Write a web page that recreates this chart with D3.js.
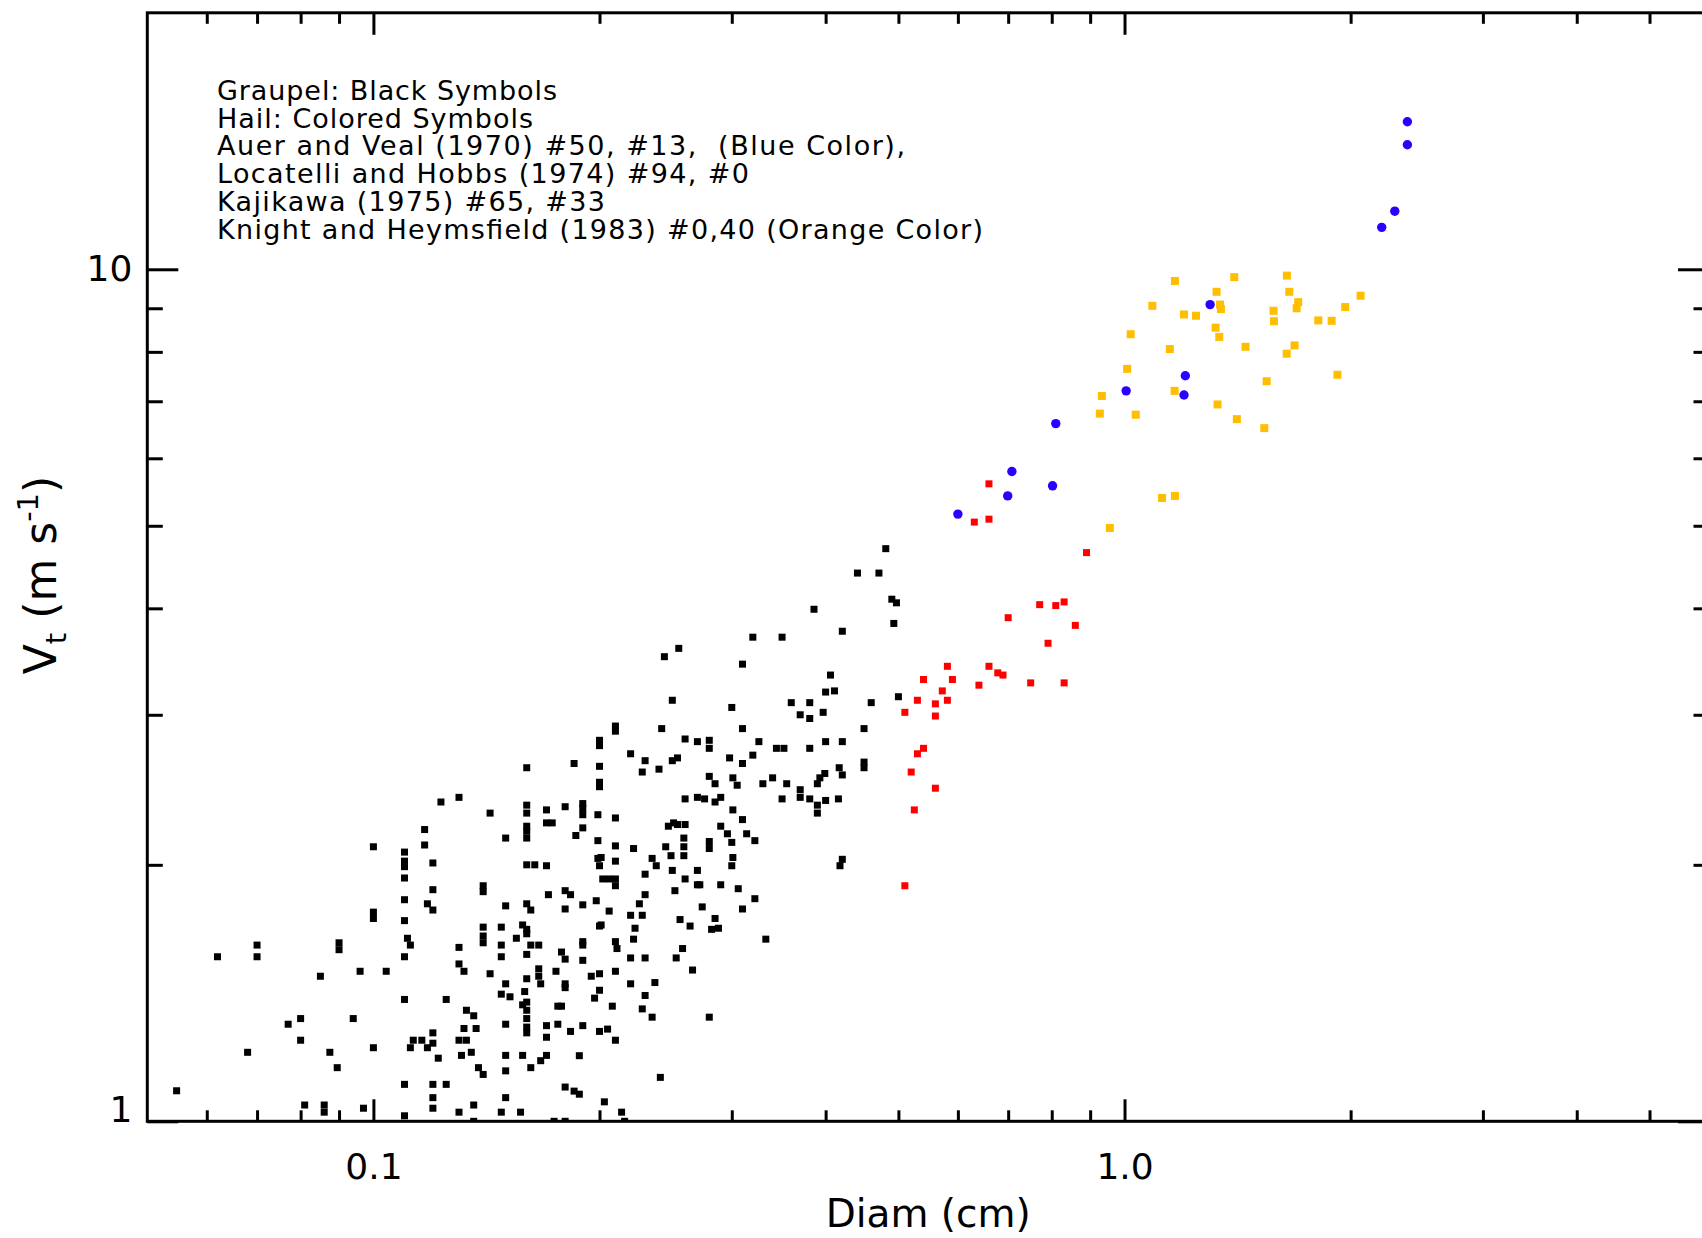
<!DOCTYPE html>
<html>
<head>
<meta charset="utf-8">
<script src="https://cdn.jsdelivr.net/npm/d3@7"></script>
<style>
  body { margin: 0; background: #fff; }
  svg { display: block; }
  text { font-family: "DejaVu Sans", "Liberation Sans", sans-serif; }
</style>
</head>
<body>
<div id="chart"></div>
<script>
// graupel, black squares  [diam cm, Vt m/s]
const graupel = [
  [0.16,2.60],[0.123,2.37],[0.13,2.40],[0.143,2.30],[0.16,2.35],[0.16,2.30],[0.16,2.22],[0.16,2.19],[0.16,2.15],[0.117,2.20],
  [0.481,4.70],[0.441,4.40],[0.471,4.40],[0.490,4.10],[0.497,4.06],[0.386,3.99],[0.493,3.84],[0.421,3.76],[0.320,3.70],[0.350,3.70],
  [0.255,3.59],[0.244,3.51],[0.310,3.44],[0.406,3.34],[0.400,3.19],[0.411,3.20],[0.250,3.12],[0.500,3.15],[0.300,3.06],[0.360,3.10],
  [0.381,3.10],[0.460,3.10],[0.370,3.00],[0.381,2.97],[0.397,3.02],[0.210,2.91],[0.210,2.87],[0.242,2.89],[0.310,2.89],[0.450,2.89],
  [0.200,2.80],[0.200,2.76],[0.260,2.81],[0.270,2.79],[0.280,2.80],[0.280,2.74],[0.326,2.79],[0.400,2.79],[0.421,2.79],[0.344,2.74],
  [0.352,2.74],[0.381,2.74],[0.220,2.70],[0.230,2.65],[0.228,2.57],[0.240,2.59],[0.250,2.65],[0.254,2.67],[0.298,2.67],[0.310,2.63],
  [0.320,2.69],[0.185,2.63],[0.200,2.61],[0.200,2.50],[0.200,2.47],[0.280,2.54],[0.285,2.49],[0.301,2.53],[0.305,2.48],[0.330,2.49],
  [0.340,2.53],[0.355,2.49],[0.370,2.45],[0.370,2.40],[0.381,2.39],[0.390,2.49],[0.393,2.53],[0.399,2.56],[0.417,2.60],[0.421,2.55],
  [0.450,2.64],[0.450,2.60],[0.390,2.35],[0.400,2.38],[0.416,2.39],[0.390,2.30],[0.350,2.39],[0.260,2.39],[0.270,2.40],[0.276,2.39],
  [0.285,2.37],[0.290,2.40],[0.301,2.32],[0.310,2.26],[0.170,2.32],[0.170,2.24],[0.173,2.24],[0.180,2.34],[0.190,2.36],[0.190,2.33],
  [0.190,2.29],[0.199,2.29],[0.210,2.27],[0.247,2.22],[0.251,2.24],[0.254,2.23],[0.260,2.23],[0.290,2.22],[0.190,2.21],
  [0.150,2.15],[0.100,2.10],[0.117,2.11],[0.110,2.07],[0.110,2.02],[0.110,1.99],[0.120,2.01],[0.160,2.00],[0.164,2.00],[0.110,1.93],
  [0.120,1.87],[0.140,1.89],[0.140,1.86],[0.110,1.82],[0.118,1.80],[0.120,1.77],[0.150,1.79],[0.160,1.80],[0.162,1.77],[0.100,1.76],
  [0.100,1.73],[0.110,1.72],[0.140,1.69],[0.140,1.65],[0.140,1.62],[0.148,1.69],[0.158,1.70],[0.160,1.68],[0.160,1.66],[0.111,1.64],
  [0.112,1.61],[0.155,1.64],[0.148,1.61],[0.162,1.61],[0.166,1.61],[0.070,1.61],[0.070,1.56],[0.090,1.62],[0.090,1.59],[0.062,1.56],
  [0.110,1.56],[0.130,1.60],[0.148,1.56],[0.160,1.57],[0.096,1.50],[0.104,1.50],[0.130,1.53],[0.132,1.50],[0.143,1.49],[0.085,1.48],
  [0.160,1.47],[0.150,1.45],[0.148,1.41],[0.152,1.40],[0.159,1.42],[0.110,1.39],[0.125,1.39],[0.158,1.37],[0.160,1.38],[0.160,1.35],
  [0.160,1.32],[0.160,1.29],[0.160,1.27],[0.133,1.35],[0.136,1.33],[0.094,1.32],[0.080,1.32],[0.077,1.30],[0.132,1.285],[0.137,1.285],
  [0.150,1.30],[0.120,1.27],[0.113,1.245],[0.116,1.245],[0.120,1.235],[0.112,1.22],[0.118,1.22],[0.130,1.245],[0.133,1.245],[0.080,1.245],
  [0.100,1.22],[0.068,1.205],[0.0875,1.205],[0.122,1.186],[0.131,1.195],[0.135,1.205],[0.150,1.195],[0.158,1.195],[0.162,1.156],[0.0895,1.156],
  [0.138,1.156],[0.140,1.135],[0.150,1.146],[0.0547,1.086],[0.110,1.105],[0.120,1.105],[0.125,1.105],[0.120,1.066],[0.150,1.066],[0.081,1.045],
  [0.086,1.045],[0.086,1.025],[0.097,1.036],[0.120,1.036],[0.136,1.045],[0.130,1.025],[0.148,1.025],[0.157,1.025],[0.110,1.015],[0.136,1.00],
  [0.186,2.165],[0.199,2.135],[0.210,2.105],[0.222,2.09],[0.259,2.15],[0.245,2.10],[0.259,2.10],[0.259,2.05],[0.249,2.05],[0.280,2.13],
  [0.280,2.09],[0.296,2.175],[0.300,2.125],[0.314,2.175],[0.322,2.135],[0.170,1.995],[0.199,2.035],[0.201,2.04],[0.200,1.995],[0.210,2.02],
  [0.235,2.035],[0.238,1.995],[0.250,1.97],[0.270,1.97],[0.301,2.04],[0.300,1.995],[0.230,1.95],[0.202,1.925],[0.206,1.925],[0.210,1.925],
  [0.210,1.89],[0.260,1.925],[0.270,1.895],[0.272,1.895],[0.290,1.895],[0.306,1.875],[0.252,1.865],[0.230,1.845],[0.171,1.845],[0.180,1.865],
  [0.183,1.845],[0.322,1.825],[0.180,1.775],[0.190,1.795],[0.198,1.815],[0.206,1.765],[0.226,1.80],[0.220,1.745],[0.228,1.745],[0.274,1.785],
  [0.310,1.775],[0.256,1.725],[0.264,1.695],[0.285,1.73],[0.282,1.68],[0.288,1.685],[0.200,1.695],[0.201,1.70],[0.223,1.685],[0.333,1.636],
  [0.222,1.636],[0.190,1.625],[0.190,1.61],[0.210,1.625],[0.211,1.595],[0.258,1.595],[0.178,1.58],[0.180,1.55],[0.190,1.545],[0.220,1.555],
  [0.230,1.555],[0.253,1.555],[0.266,1.505],[0.166,1.51],[0.166,1.48],[0.167,1.45],[0.175,1.50],[0.180,1.45],[0.180,1.435],[0.195,1.48],
  [0.200,1.49],[0.210,1.50],[0.220,1.45],[0.237,1.455],[0.200,1.425],[0.197,1.395],[0.230,1.405],[0.176,1.365],[0.178,1.365],[0.208,1.365],
  [0.228,1.355],[0.235,1.325],[0.280,1.325],[0.170,1.295],[0.176,1.30],[0.190,1.295],[0.183,1.275],[0.200,1.275],[0.205,1.283],[0.170,1.255],
  [0.210,1.245],[0.170,1.195],[0.167,1.178],[0.188,1.194],[0.241,1.126],[0.180,1.097],[0.185,1.085],[0.188,1.076],[0.203,1.054],[0.214,1.025],
  [0.174,1.00],[0.180,1.00],[0.216,1.00],[0.421,2.03],[0.418,1.995]
];

// hail, red squares (Kajikawa)
const kajikawa = [
  [0.660,5.60],[0.631,5.05],[0.660,5.09],[0.890,4.65],[0.771,4.04],[0.810,4.03],[0.831,4.07],[0.700,3.90],[0.860,3.82],[0.791,3.64],
  [0.581,3.42],[0.660,3.42],[0.678,3.36],[0.689,3.34],[0.540,3.30],[0.590,3.30],[0.640,3.25],[0.750,3.27],[0.831,3.27],[0.572,3.20],
  [0.530,3.12],[0.581,3.12],[0.560,3.09],[0.510,3.02],[0.560,2.99],[0.540,2.74],[0.530,2.70],[0.520,2.57],[0.560,2.46],[0.525,2.32],
  [0.510,1.89]
];

// hail, blue circles (Auer and Veal)
const auerVeal = [
  [2.38,14.9],[2.38,14.0],[2.29,11.7],[2.20,11.2],[1.30,9.09],[1.205,7.50],[1.20,7.12],[1.005,7.20],[0.810,6.59],[0.708,5.79],
  [0.802,5.57],[0.699,5.42],[0.600,5.16]
];

// hail, orange squares (Knight and Heymsfield)
const knightHeymsfield = [
  [1.167,9.69],[1.40,9.79],[1.645,9.83],[1.326,9.41],[1.657,9.41],[1.089,9.06],[1.34,9.09],[1.344,8.98],[1.20,8.85],[1.245,8.82],
  [1.579,8.94],[1.581,8.69],[1.703,9.15],[1.695,9.00],[1.811,8.71],[1.887,8.70],[1.967,9.03],[2.062,9.31],[1.322,8.54],[1.337,8.33],
  [1.019,8.39],[1.149,8.06],[1.449,8.11],[1.684,8.14],[1.644,7.96],[1.921,7.52],[1.008,7.64],[1.546,7.39],[1.166,7.20],[0.933,7.10],
  [0.927,6.77],[1.035,6.75],[1.33,6.94],[1.411,6.67],[1.535,6.51],[1.122,5.39],[1.167,5.42],[0.956,4.97]
];

const legendLines = [
  "Graupel: Black Symbols",
  "Hail: Colored Symbols",
  "Auer and Veal (1970) #50, #13,  (Blue Color),",
  "Locatelli and Hobbs (1974) #94, #0",
  "Kajikawa (1975) #65, #33",
  "Knight and Heymsfield (1983) #0,40 (Orange Color)"
];

const xMajor = [0.1, 1.0];
const xMinor = [0.06, 0.07, 0.08, 0.09, 0.2, 0.3, 0.4, 0.5, 0.6, 0.7, 0.8, 0.9, 2, 3, 4, 5];
const yMajor = [1, 10];
const yMinor = [2, 3, 4, 5, 6, 7, 8, 9];

const W = 1702, H = 1238;
const box = { left: 147.3, top: 12.8, right: 1709, bottom: 1121.3 };
const legendWidths = [340, 316, 688, 532, 388, 766]; // measured line lengths

const x = d3.scaleLog().domain([0.05, 6]).range([box.left, box.right]);
const y = d3.scaleLog().domain([1, 20]).range([box.bottom, box.top]);

const svg = d3.select('#chart').append('svg')
  .attr('width', W).attr('height', H);

svg.append('defs').append('clipPath').attr('id', 'plotclip')
  .append('rect')
  .attr('x', box.left).attr('y', box.top)
  .attr('width', box.right - box.left).attr('height', box.bottom - box.top);

// ticks, all pointing inwards
const tx = 22, ty = 31; // major tick lengths
function ticks(axis, values, len, tr, fmt) {
  const g = svg.append('g').attr('transform', tr)
    .call(axis.tickValues(values).tickSize(-len).tickSizeOuter(0).tickFormat(fmt || ''));
  g.select('.domain').remove();
  g.selectAll('line').attr('stroke', '#000').attr('stroke-width', 3);
  g.selectAll('text').attr('font-size', 36).attr('fill', '#000')
    .attr('font-family', '"DejaVu Sans", sans-serif');
  return g;
}

ticks(d3.axisBottom(x).tickPadding(32), xMajor, tx, `translate(0,${box.bottom})`, d => d.toFixed(1));
ticks(d3.axisBottom(x), xMinor, tx / 2, `translate(0,${box.bottom})`);
ticks(d3.axisTop(x), xMajor, tx, `translate(0,${box.top})`);
ticks(d3.axisTop(x), xMinor, tx / 2, `translate(0,${box.top})`);

const leftG = ticks(d3.axisLeft(y).tickPadding(15), yMajor, ty, `translate(${box.left},0)`, d3.format('d'));
ticks(d3.axisLeft(y), yMinor, ty / 2, `translate(${box.left},0)`);
ticks(d3.axisRight(y), yMajor, ty, `translate(${box.right},0)`);
ticks(d3.axisRight(y), yMinor, ty / 2, `translate(${box.right},0)`);

// lowest label sits a little above its tick
leftG.selectAll('.tick').filter(d => d === 1).select('text').attr('y', -11);

// frame
svg.append('rect')
  .attr('x', box.left).attr('y', box.top)
  .attr('width', box.right - box.left).attr('height', box.bottom - box.top)
  .attr('fill', 'none').attr('stroke', '#000').attr('stroke-width', 3);

// points
const pts = svg.append('g').attr('clip-path', 'url(#plotclip)');

function squares(data, size, color) {
  pts.append('g').selectAll('rect').data(data).join('rect')
    .attr('x', d => x(d[0]) - size / 2)
    .attr('y', d => y(d[1]) - size / 2)
    .attr('width', size).attr('height', size)
    .attr('fill', color);
}

squares(graupel, 7, '#000');
pts.append('g').selectAll('circle').data(auerVeal).join('circle')
  .attr('cx', d => x(d[0])).attr('cy', d => y(d[1]))
  .attr('r', 4.7).attr('fill', '#2a00ff');
squares(kajikawa, 7, '#ff0000');
squares(knightHeymsfield, 8, '#ffbe00');

// legend text
svg.append('g').selectAll('text').data(legendLines).join('text')
  .attr('x', 217)
  .attr('y', (d, i) => 100 + i * 27.7)
  .attr('font-size', 27)
  .attr('font-family', '"DejaVu Sans Condensed", "Liberation Sans Narrow", "DejaVu Sans", sans-serif')
  .attr('textLength', (d, i) => legendWidths[i])
  .attr('lengthAdjust', 'spacing')
  .style('white-space', 'pre')
  .text(d => d);

// axis titles
svg.append('text')
  .attr('x', (box.left + box.right) / 2).attr('y', 1227)
  .attr('text-anchor', 'middle').attr('font-size', 39)
  .text('Diam (cm)');

const yt = svg.append('text')
  .attr('transform', 'translate(56,575) rotate(-90)')
  .attr('text-anchor', 'middle').attr('font-size', 44);
yt.append('tspan').text('V');
yt.append('tspan').attr('font-size', 29).attr('dy', 10).text('t');
yt.append('tspan').attr('dy', -10).text(' (m s');
yt.append('tspan').attr('font-size', 29).attr('dy', -18).text('-1');
yt.append('tspan').attr('dy', 18).text(')');
</script>
</body>
</html>
